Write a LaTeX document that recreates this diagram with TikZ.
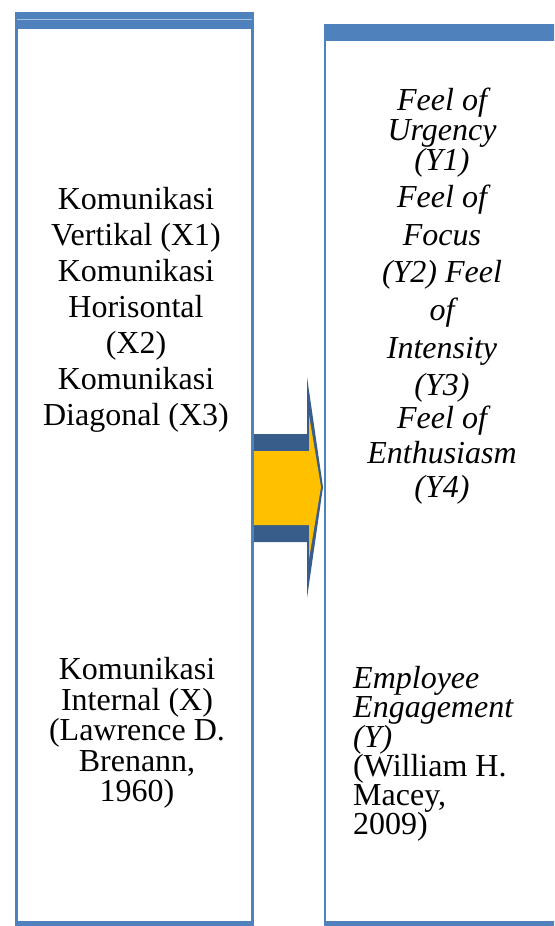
\documentclass[tikz,border=0pt]{standalone}
\usepackage{fontspec}
\setmainfont{Liberation Serif}[Ligatures=TeX]
\newfontfamily\tnr{Liberation Serif}
\definecolor{boxblue}{HTML}{4F81BD}
\definecolor{arrowblue}{HTML}{385D8A}
\definecolor{arrowgold}{HTML}{FFC000}
\lineskiplimit=-100pt

\begin{document}
\begin{tikzpicture}[x=1pt, y=-1pt,
    side/.style={boxblue, line width=2.5pt},
    lbl/.style={inner sep=0pt, align=center, font=\tnr\fontsize{32}{36}\selectfont}]
    \useasboundingbox (0,0) rectangle (554,926);
    \clip (0,0) rectangle (554,926);

    % arrow between the two boxes
    \fill[arrowblue] (253,434) -- (307,434) -- (307,377) -- (323,487) -- (307,598) -- (307,542) -- (253,542) -- cycle;
    \fill[arrowgold] (253,451) -- (309,451) -- (309,415) -- (321,487) -- (309,559) -- (309,525) -- (253,525) -- cycle;

    % the two boxes
    \foreach \xa/\xb/\yt in {15/253.5/11.5, 323.5/560/24} {
        \fill[boxblue] (\xa,\yt) rectangle (\xb,\yt+17);
        \fill[boxblue] (\xa,921) rectangle (\xb,940);
        \draw[side] (\xa+1.25,\yt) -- (\xa+1.25,930);
        \draw[side] (\xb-1.25,\yt) -- (\xb-1.25,930);
    }
    \draw[boxblue!50!white, line width=0.6pt] (17,19.5) -- (252,19.5);

    \node[lbl] (xdims) at (136,310) {Komunikasi\\Vertikal (X1)\\Komunikasi\\Horisontal\\(X2)\\Komunikasi\\Diagonal (X3)};
    \node[lbl, font=\tnr\itshape\fontsize{32}{37}\selectfont] (ydims) at (442,296)
        {Feel of\\[-7pt]Urgency\\[-7pt](Y1)\\Feel of\\[1pt]Focus\\(Y2) Feel\\[1pt]of\\[1pt]Intensity\\(Y3)\\[-4pt]Feel of\\[-2pt]Enthusiasm\\[-3pt](Y4)};

    \node[lbl, font=\tnr\fontsize{32}{30.5}\selectfont] (xsrc) at (137,733) {Komunikasi\\Internal (X)\\(Lawrence D.\\Brenann,\\1960)};
    \node[lbl, align=left, anchor=west, font=\tnr\fontsize{32}{29.2}\selectfont] (ysrc) at (353,754)
        {\textit{Employee}\\\textit{Engagement}\\\textit{(Y)}\\(William H.\\Macey,\\2009)};
\end{tikzpicture}
\end{document}
